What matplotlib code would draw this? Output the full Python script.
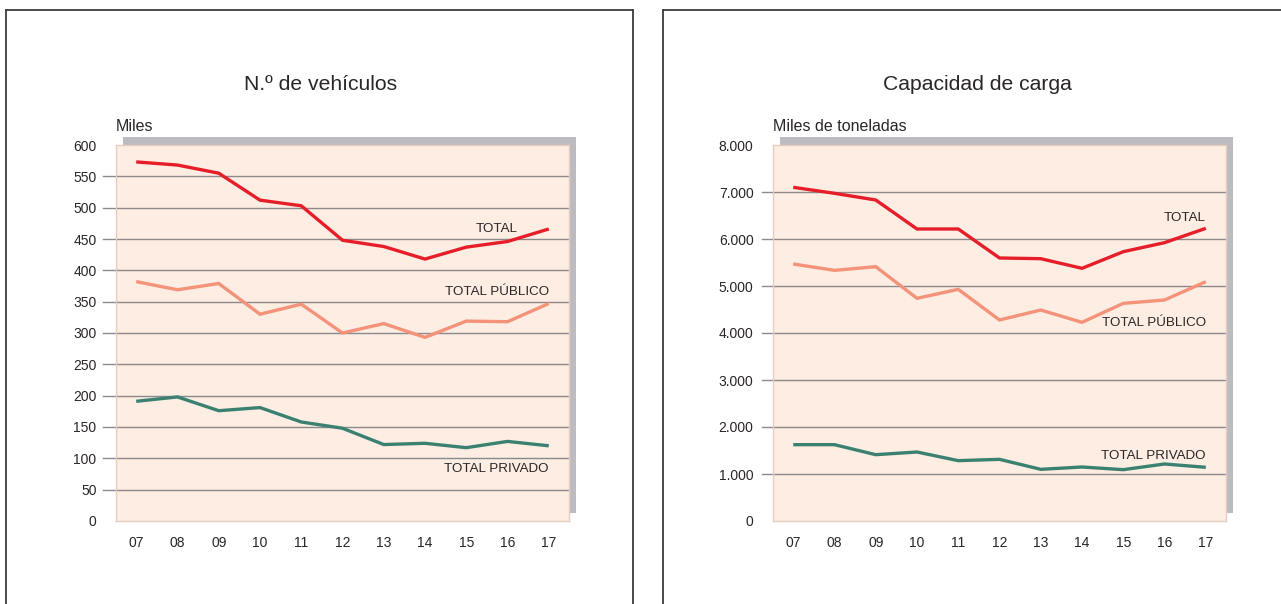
import matplotlib
matplotlib.use("Agg")
import matplotlib.pyplot as plt
from matplotlib.patches import Rectangle
from matplotlib.lines import Line2D

plt.rcParams['font.family'] = ['Liberation Sans', 'DejaVu Sans']

years = ["07", "08", "09", "10", "11", "12", "13", "14", "15", "16", "17"]

veh_total = [573, 568, 555, 512, 503, 448, 438, 418, 437, 446, 466]
veh_publico = [382, 369, 379, 330, 346, 300, 315, 293, 319, 318, 347]
veh_privado = [191, 198, 176, 181, 158, 148, 122, 124, 117, 127, 120]

carga_total = [7100, 6972, 6830, 6213, 6213, 5596, 5581, 5376, 5730, 5922, 6227]
carga_publico = [5468, 5333, 5411, 4738, 4929, 4277, 4489, 4227, 4631, 4702, 5092]
carga_privado = [1624, 1624, 1411, 1468, 1284, 1312, 1099, 1149, 1092, 1213, 1142]

veh_ticks = list(range(0, 601, 50))
veh_ticklabels = [str(v) for v in veh_ticks]
carga_ticks = list(range(0, 8001, 1000))
carga_ticklabels = ["0", "1.000", "2.000", "3.000", "4.000", "5.000", "6.000", "7.000", "8.000"]

W, H = 1281, 604
fig = plt.figure(figsize=(W / 100, H / 100), dpi=100)

C_TOTAL = "#E61E29"
C_PUB = "#F4937A"
C_PRIV = "#3B8171"
C_BOX = "#FDEDE3"
C_EDGE = "#E6CDBF"
C_SHADOW = "#BCBCC0"
C_GRID = "#8A8A8A"
C_TEXT = "#2A2526"


def px(x0, y0, w, h):
    # pixel box (top-left origin) -> figure fraction [l, b, w, h]
    return [x0 / W, (H - y0 - h) / H, w / W, h / H]


# panel frames
frame_kw = dict(color="#3C3C3C", lw=1.3, transform=fig.transFigure)
fig.add_artist(Line2D([6 / W, 6 / W], [0, 1 - 10 / H], **frame_kw))
fig.add_artist(Line2D([6 / W, 633 / W], [1 - 10 / H, 1 - 10 / H], **frame_kw))
fig.add_artist(Line2D([633 / W, 633 / W], [0, 1 - 10 / H], **frame_kw))
fig.add_artist(Line2D([663 / W, 663 / W], [0, 1 - 10 / H], **frame_kw))
fig.add_artist(Line2D([663 / W, 1], [1 - 10 / H, 1 - 10 / H], **frame_kw))


def panel(x0, title, unit, ticks, ticklabels, ymax, series, labels, gridext):
    box_w, box_h = 453, 376
    y0 = 145
    # shadow
    l, b, w, h = px(x0 + 7, y0 - 8, box_w, box_h)
    fig.add_artist(Rectangle((l, b), w, h, transform=fig.transFigure,
                             facecolor=C_SHADOW, edgecolor="none", zorder=0))
    ax = fig.add_axes(px(x0, y0, box_w, box_h))
    ax.set_facecolor(C_BOX)
    for s in ax.spines.values():
        s.set_color(C_EDGE)
        s.set_linewidth(1.0)
    ax.set_xlim(-0.49, 10.49)
    ax.set_ylim(0, ymax)
    ax.set_yticks(ticks)
    ax.set_yticklabels(ticklabels)
    ax.set_xticks(range(len(years)))
    ax.set_xticklabels(years)
    ax.tick_params(axis="y", length=0, pad=14, labelsize=10, labelcolor=C_TEXT)
    ax.tick_params(axis="x", length=0, pad=11, labelsize=10, labelcolor=C_TEXT)
    for t in ticks[1:-1]:
        ax.plot([-gridext, 1], [t, t], transform=ax.get_yaxis_transform(),
                color=C_GRID, lw=1.0, clip_on=False, zorder=1)
    xs = list(range(len(years)))
    for vals, color in series:
        ax.plot(xs, vals, color=color, lw=2.4, solid_capstyle="butt",
                solid_joinstyle="miter", zorder=3)
    for txt, x, y, ha in labels:
        ax.text(x, y, txt, ha=ha, va="center", fontsize=9.6, color=C_TEXT, zorder=4)
    fig.text((x0 + box_w / 2 - 22) / W, 1 - 85 / H, title, ha="center", va="center",
             fontsize=15.2, color=C_TEXT)
    fig.text(x0 / W, 1 - 126 / H, unit, ha="left", va="center",
             fontsize=11.5, color=C_TEXT)
    return ax


panel(116, "N.º de vehículos", "Miles", veh_ticks, veh_ticklabels, 600,
      [(veh_total, C_TOTAL), (veh_publico, C_PUB), (veh_privado, C_PRIV)],
      [("TOTAL", 9.25, 466, "right"),
       ("TOTAL PÚBLICO", 10.0, 366, "right"),
       ("TOTAL PRIVADO", 10.0, 83, "right")],
      13 / 453)

panel(773, "Capacidad de carga", "Miles de toneladas", carga_ticks, carga_ticklabels, 8000,
      [(carga_total, C_TOTAL), (carga_publico, C_PUB), (carga_privado, C_PRIV)],
      [("TOTAL", 10.0, 6447, "right"),
       ("TOTAL PÚBLICO", 10.0, 4215, "right"),
       ("TOTAL PRIVADO", 10.0, 1385, "right")],
      11 / 454)

fig.savefig("out.png", dpi=100, facecolor="white")
